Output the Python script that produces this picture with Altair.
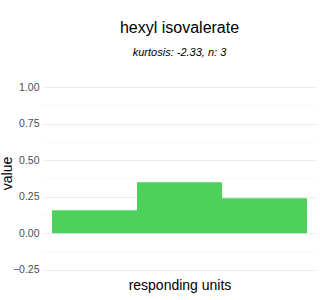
import altair as alt
import pandas as pd

units = [1, 2, 3]
values = [0.158, 0.349, 0.240]
major_ticks = [-0.25, 0.0, 0.25, 0.5, 0.75, 1.0]
minor_ticks = [-0.125, 0.125, 0.375, 0.625, 0.875]

df = pd.DataFrame({
    "x0": [u - 0.5 for u in units],
    "x1": [u + 0.5 for u in units],
    "value": values,
    "zero": [0.0] * len(values),
})
minor_df = pd.DataFrame({"m": minor_ticks})

ydom = [-0.3125, 1.0625]
xdom = [0.394, 3.606]

minor = alt.Chart(minor_df).mark_rule(color="#f4f4f4", strokeWidth=0.6).encode(
    y=alt.Y("m:Q", scale=alt.Scale(domain=ydom))
)

bars = alt.Chart(df).mark_rect(color="#4cd15b").encode(
    x=alt.X("x0:Q", scale=alt.Scale(domain=xdom, nice=False, zero=False),
            axis=alt.Axis(title="responding units", labels=False, ticks=False,
                          grid=False, domain=False, titleFontSize=14,
                          titleFontWeight="normal", titleColor="#000000",
                          titleFont="Liberation Sans", titlePadding=-1)),
    x2="x1:Q",
    y=alt.Y("value:Q", scale=alt.Scale(domain=ydom, nice=False, zero=False),
            axis=alt.Axis(title="value", values=major_ticks, format=".2f",
                          ticks=False, domain=False, gridColor="#ebebeb",
                          gridWidth=1, labelFontSize=10.5, labelColor="#4d4d4d",
                          labelFont="Liberation Sans", labelPadding=4,
                          titleFontSize=14, titleFontWeight="normal",
                          titleColor="#000000", titleFont="Liberation Sans",
                          titleY=95, titleX=-32, titleAngle=270,
                          titleBaseline="alphabetic", titleAlign="center")),
    y2="zero:Q",
)

chart = alt.layer(minor, bars).properties(
    width=273,
    height=201,
    autosize=alt.AutoSizeParams(type="none"),
    padding={"left": 43, "top": 78, "right": 4, "bottom": 21},
    title=alt.TitleParams(
        text="hexyl isovalerate",
        subtitle="kurtosis: -2.33, n: 3",
        anchor="middle",
        fontSize=16,
        fontWeight="normal",
        font="Liberation Sans",
        color="#000000",
        subtitleFont="Liberation Sans",
        subtitleFontSize=11,
        subtitleFontStyle="italic",
        subtitleColor="#000000",
        subtitlePadding=11,
        offset=20,
    ),
).configure_view(stroke=None)

chart.save("out.html", embed_options={"renderer": "svg", "actions": False})
